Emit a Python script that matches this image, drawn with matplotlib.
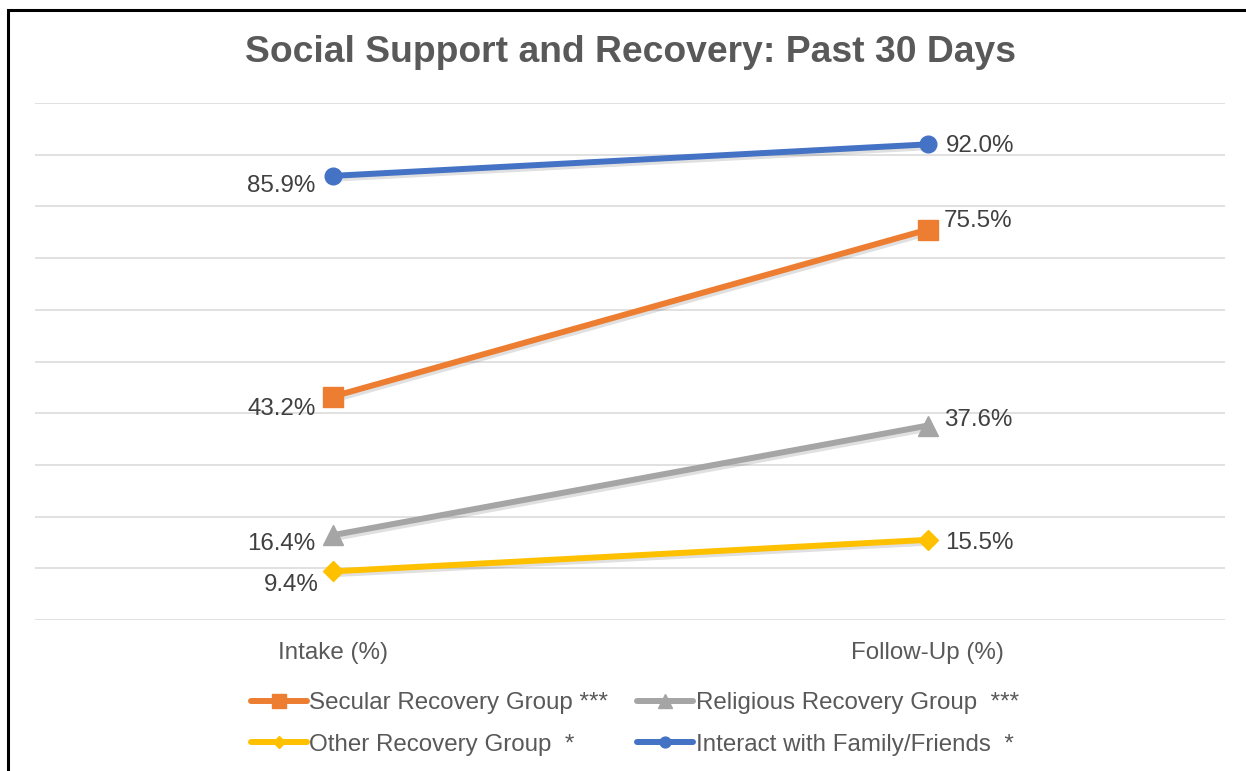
import matplotlib
matplotlib.use("Agg")
import matplotlib.pyplot as plt
import matplotlib.patheffects as pe
from matplotlib.patches import Rectangle

plt.rcParams['font.family'] = ['Liberation Sans', 'DejaVu Sans']

# chart data
timepoints = ['Intake (%)', 'Follow-Up (%)']
series_names = [
    'Secular Recovery Group ***',
    'Religious Recovery Group  ***',
    'Other Recovery Group  *',
    'Interact with Family/Friends  *',
]
secular = [43.2, 75.5]
religious = [16.4, 37.6]
other = [9.4, 15.5]
family = [85.9, 92.0]

# styling per series
colors = ['#ED7D31', '#A5A5A5', '#FFC000', '#4472C4']
markers = ['s', '^', 'D', 'o']
marker_sizes = [15, 15, 10, 12]
# label offsets in points: (intake, follow-up)
label_offsets = [
    [(-12, -9), (12, 6)],
    [(-12, -6), (12, 4)],
    [(-10, -10), (13, -2)],
    [(-12, -7), (13, -1)],
]

W, H = 1246, 771
fig = plt.figure(figsize=(W / 100, H / 100), dpi=100)
ax = fig.add_axes([35 / W, 1 - 620 / H, 1190 / W, 517 / H])

x = list(range(len(timepoints)))
shadow = [pe.SimpleLineShadow(offset=(1.5, -2), alpha=0.12, shadow_color='black'), pe.Normal()]
marker_shadow = [pe.SimplePatchShadow(offset=(1.5, -2), alpha=0.12, shadow_rgbFace='black'),
                 pe.Normal()]

handles = []
for name, vals, c, m, ms, offs in zip(series_names, [secular, religious, other, family],
                                      colors, markers, marker_sizes, label_offsets):
    ax.plot(x, vals, color=c, lw=4.3, path_effects=shadow, zorder=3,
            solid_capstyle='round')
    ax.plot(x, vals, ls='none', marker=m, markersize=ms, color=c, zorder=3.5)
    # legend entry: line with a smaller marker
    h, = ax.plot([], [], color=c, lw=4.3, marker=m, markersize=ms * 0.65,
                 label=name, solid_capstyle='round')
    handles.append(h)
    for xi, v, (dx, dy) in zip(x, vals, offs):
        ax.annotate(f'{v:.1f}%', (xi, v), xytext=(dx, dy), textcoords='offset points',
                    ha='right' if xi == 0 else 'left', va='center',
                    fontsize=17.4, color='#404040', zorder=4)

ax.set_xlim(-0.5, 1.5)
ax.set_ylim(0, 100)
ax.set_yticks(range(0, 101, 10))
ax.set_yticklabels([])
ax.tick_params(axis='y', length=0)
ax.set_xticks(x)
ax.set_xticklabels(timepoints, fontsize=17.4, color='#595959')
ax.tick_params(axis='x', length=0, pad=16)
ax.grid(axis='y', color='#D9D9D9', lw=1.1)
ax.set_axisbelow(True)
for s in ax.spines.values():
    s.set_visible(False)

fig.text(630.5 / W, 1 - 52 / H, 'Social Support and Recovery: Past 30 Days',
         ha='center', va='center', fontsize=26.8, fontweight='bold', color='#595959')

# legend filled column by column, so order gives rows: secular|religious, other|family
order = [0, 2, 1, 3]
leg = fig.legend([handles[i] for i in order], [series_names[i] for i in order],
                 loc='center', bbox_to_anchor=(635 / W, 1 - 724 / H), ncol=2,
                 frameon=False, fontsize=17.4, handlelength=2.3, handletextpad=0.12,
                 columnspacing=1.2, labelspacing=0.8)
for t in leg.get_texts():
    t.set_color('#595959')

# outer frame of the chart box
fig.patches.append(Rectangle((8 / W, -0.1), 1.2, 1.1 - 10 / H, transform=fig.transFigure,
                             fill=False, edgecolor='black', lw=2.2))

fig.savefig('out.png', dpi=100)
